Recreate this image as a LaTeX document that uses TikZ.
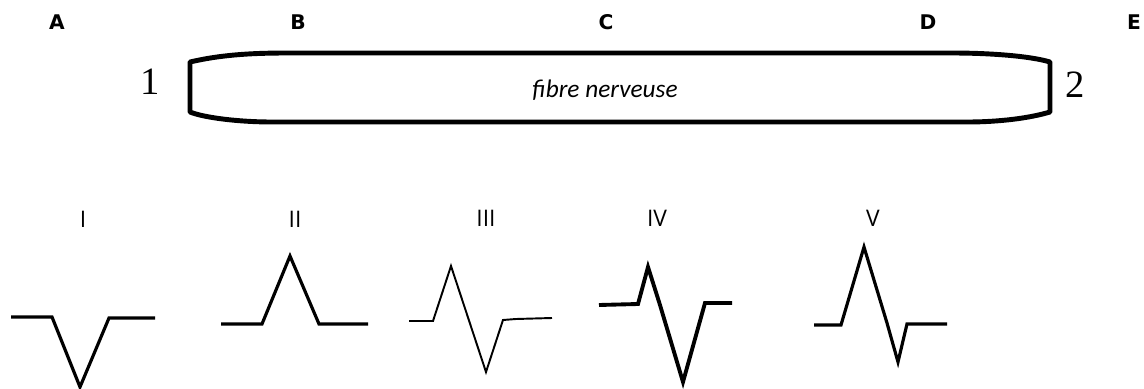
\documentclass[tikz,border=0pt]{standalone}
\usepackage{fontspec}
\setmainfont{Liberation Serif}
\newfontfamily\lettfont{DejaVu Sans}
\newfontfamily\numfont{Open Sans}
\newfontfamily\fibfont{Carlito}
\usetikzlibrary{positioning}

\tikzset{
  letter/.style={font=\lettfont\bfseries\fontsize{11.5}{13}\selectfont},
  endnum/.style={font=\fontsize{22}{24}\selectfont},
  roman/.style={font=\numfont\fontsize{13}{15}\selectfont},
  wave/.style={line width=1.8pt,line join=miter}
}

\begin{document}
\begin{tikzpicture}[x={(0.02cm,0)},y={(0,-0.02cm)}]
  \useasboundingbox (0,0) rectangle (1144,389);
  \foreach \l/\x in {A/57,B/298,C/606,D/928,E/1134} {\node[letter] (lbl\l) at (\x,22) {\l};}
  \draw[line width=2.8pt,line join=round] (190,62) .. controls (220,55) and (250,53) .. (287,53) -- (952,53)
    .. controls (990,53) and (1030,56) .. (1050,62) -- (1050,112) .. controls (1030,118) and (1000,122) .. (967,122)
    -- (272,122) .. controls (240,122) and (205,118) .. (190,112) -- cycle;
  \node[font=\fibfont\itshape\fontsize{14.4}{16}\selectfont] (fibre) at (605,90) {fibre nerveuse};
  \node[endnum] (bout1) at (150,82) {1};
  \node[endnum] (bout2) at (1075,85) {2};
  \node[roman] (rI) at (83,219) {I};
  \node[roman] (rII) at (295,219) {II};
  \node[roman] (rIII) at (486,218) {III};
  \node[roman] (rIV) at (657,218) {IV};
  \node[roman] (rV) at (873,218) {V};
  \draw[wave] (11,317) -- (52,317) -- (80,387) -- (109,318) -- (155,318);
  \draw[wave] (221,324) -- (262,324) -- (290,256) -- (319,324) -- (368,324);
  \draw[wave,line width=1.1pt] (409,321) -- (433,321) -- (451,266) -- (486,372) -- (503,320) -- (516,319) -- (552,318);
  \draw[wave,line width=2.2pt] (599,305) -- (638,304) -- (648,267) -- (660,305) -- (683,382) -- (705,303) -- (732,303);
  \draw[wave] (814,325) -- (841,325) -- (864,247) -- (887,323) -- (898,362) -- (907,324) -- (947,324);
\end{tikzpicture}
\end{document}
